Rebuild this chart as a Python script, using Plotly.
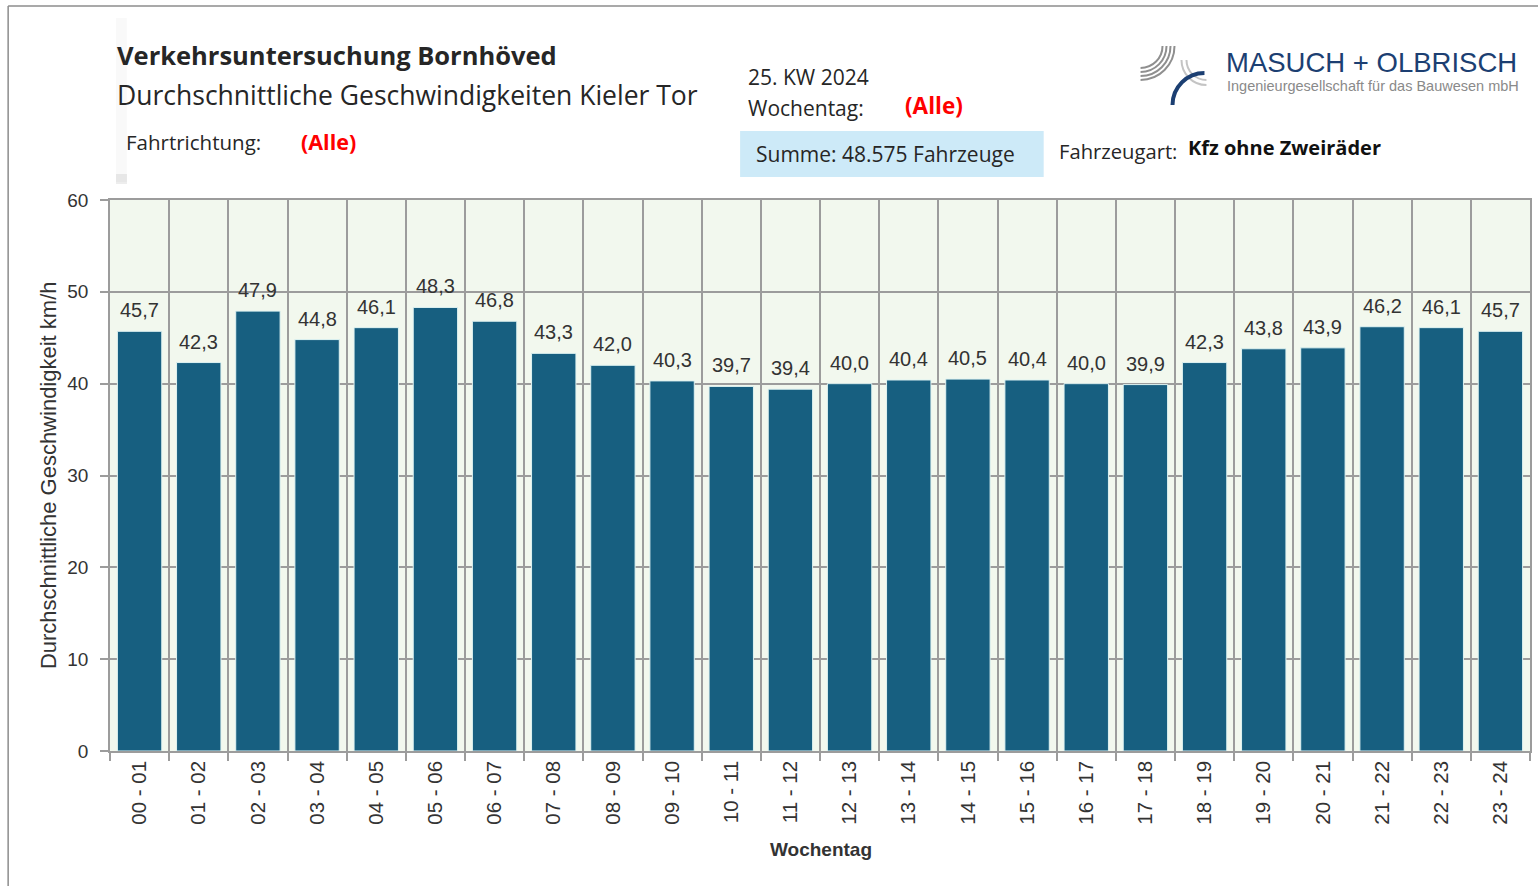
import plotly.graph_objects as go

# ---- data ----
categories = ["00 - 01", "01 - 02", "02 - 03", "03 - 04", "04 - 05", "05 - 06",
              "06 - 07", "07 - 08", "08 - 09", "09 - 10", "10 - 11", "11 - 12",
              "12 - 13", "13 - 14", "14 - 15", "15 - 16", "16 - 17", "17 - 18",
              "18 - 19", "19 - 20", "20 - 21", "21 - 22", "22 - 23", "23 - 24"]
speeds = [45.7, 42.3, 47.9, 44.8, 46.1, 48.3, 46.8, 43.3, 42.0, 40.3, 39.7, 39.4,
          40.0, 40.4, 40.5, 40.4, 40.0, 39.9, 42.3, 43.8, 43.9, 46.2, 46.1, 45.7]
y_ticks = [0, 10, 20, 30, 40, 50, 60]

W, H = 1540, 886
L, R, T, B = 110, 1532, 200, 751   # plot area in pixels


def px(x):
    return (x - L) / (R - L)


def py(y):
    return (B - y) / (B - T)


HEAD_FONT = "Open Sans, Lato, sans-serif"
ARIAL = "Liberation Sans, Arial, sans-serif"
TXT = "#262626"

fig = go.Figure()
fig.add_trace(go.Bar(
    x=categories, y=speeds,
    marker=dict(color="#175f80", line=dict(color="#dff3f2", width=1)),
    hoverinfo="x+y",
))

annotations = []
# value labels above bars (positioned via data coordinates)
for c, v in zip(categories, speeds):
    annotations.append(dict(
        x=c, y=v, xref="x", yref="y", text=f"{v:.1f}".replace(".", ","),
        showarrow=False, xanchor="center", yanchor="bottom", yshift=8,
        font=dict(family=ARIAL, size=20, color="#333333")))


def txt(x, y, s, size, color=TXT, bold=False, family=HEAD_FONT, xanchor="left"):
    annotations.append(dict(
        xref="paper", yref="paper", x=px(x), y=py(y), text=f"<b>{s}</b>" if bold else s,
        showarrow=False, xanchor=xanchor, yanchor="middle",
        font=dict(family=family, size=size, color=color)))


txt(115, 55, "Verkehrsuntersuchung Bornhöved", 25.5, bold=True)
txt(115, 95, "Durchschnittliche Geschwindigkeiten Kieler Tor", 26.5)
txt(124, 142, "Fahrtrichtung:", 20.5)
txt(299, 141, "(Alle)", 21.5, color="#ff0000", bold=True)
txt(747, 77, "25. KW 2024", 21)
txt(747, 108, "Wochentag:", 21)
txt(904, 105, "(Alle)", 22.5, color="#ff0000", bold=True)
txt(755, 154, "Summe: 48.575 Fahrzeuge", 21)
txt(1058, 151, "Fahrzeugart:", 20.2)
txt(1188, 147, "Kfz ohne Zweiräder", 20, color="#111111", bold=True)
txt(1226, 63, "MASUCH + OLBRISCH", 27.5, color="#1c3f72", family=ARIAL)
txt(1227, 86, "Ingenieurgesellschaft für das Bauwesen mbH", 14.5, color="#8a8a8a", family=ARIAL)

# axis titles
annotations.append(dict(
    xref="paper", yref="paper", x=px(48), y=py(475), text="Durchschnittliche Geschwindigkeit km/h",
    showarrow=False, textangle=-90, xanchor="center", yanchor="middle",
    font=dict(family=ARIAL, size=22, color="#333333")))
annotations.append(dict(
    xref="paper", yref="paper", x=px(822), y=py(849), text="<b>Wochentag</b>",
    showarrow=False, xanchor="center", yanchor="middle",
    font=dict(family=ARIAL, size=19, color="#333333")))

shapes = []
# outer frame
shapes.append(dict(type="line", xref="paper", yref="paper", x0=px(8), x1=px(8), y0=py(6), y1=py(886),
                   line=dict(color="#8c8c8c", width=1.5)))
shapes.append(dict(type="line", xref="paper", yref="paper", x0=px(8), x1=px(1540), y0=py(6), y1=py(6),
                   line=dict(color="#8c8c8c", width=1.5)))
# faint shadow strip
shapes.append(dict(type="rect", xref="paper", yref="paper", x0=px(116), x1=px(127), y0=py(18), y1=py(182),
                   fillcolor="rgba(0,0,0,0.025)", line=dict(width=0), layer="below"))
shapes.append(dict(type="rect", xref="paper", yref="paper", x0=px(116), x1=px(127), y0=py(174), y1=py(184),
                   fillcolor="rgba(0,0,0,0.07)", line=dict(width=0), layer="below"))
# light blue box
shapes.append(dict(type="rect", xref="paper", yref="paper", x0=px(741), x1=px(1045), y0=py(131), y1=py(177),
                   fillcolor="#cdeaf8", line=dict(width=0), layer="below"))

# logo: quarter circles as cubic beziers
K = 0.5523


def bez(pts):
    return "M {:.5f},{:.5f} C {:.5f},{:.5f} {:.5f},{:.5f} {:.5f},{:.5f}".format(
        *[v for p in pts for v in (px(p[0]), py(p[1]))])


def arc_left_top(cx, cy, r):
    return bez([(cx, cy + r), (cx + K * r, cy + r), (cx + r, cy + K * r), (cx + r, cy)])


def arc_bottom_right(cx, cy, r):
    return bez([(cx - r, cy), (cx - r, cy - K * r), (cx - K * r, cy - r), (cx, cy - r)])


def arc_top_right(cx, cy, r):
    return bez([(cx - r, cy), (cx - r, cy + K * r), (cx - K * r, cy + r), (cx, cy + r)])


for r in [22, 26, 30, 34]:
    shapes.append(dict(type="path", xref="paper", yref="paper", path=arc_left_top(1142, 46, r),
                       line=dict(color="#8f8f8f", width=2)))
for r in [20, 25]:
    shapes.append(dict(type="path", xref="paper", yref="paper", path=arc_top_right(1208, 60, r),
                       line=dict(color="#c4c4c4", width=2)))
shapes.append(dict(type="path", xref="paper", yref="paper", path=arc_bottom_right(1206, 105, 32),
                   line=dict(color="#1c3f72", width=4)))

fig.update_layout(
    width=W, height=H,
    margin=dict(l=L, r=W - R, t=T, b=H - B, pad=0),
    paper_bgcolor="white", plot_bgcolor="#f2f8ee",
    showlegend=False,
    bargap=0.25,
    annotations=annotations,
    shapes=shapes,
    xaxis=dict(
        type="category", tickson="boundaries", showgrid=True, gridcolor="#9c9c9c", gridwidth=1.5,
        ticks="outside", ticklen=8, tickcolor="#9c9c9c", tickwidth=1.5, tickangle=-90,
        tickfont=dict(family=ARIAL, size=20.5, color="#333333"),
        showline=True, linecolor="#9c9c9c", linewidth=1.5, mirror=True,
    ),
    yaxis=dict(
        range=[0, 60], tickvals=y_ticks, showgrid=True, gridcolor="#9c9c9c", gridwidth=1.5,
        ticks="outside", ticklen=8, tickcolor="#9c9c9c", tickwidth=1.5, ticklabelstandoff=8,
        tickfont=dict(family=ARIAL, size=19, color="#333333"),
        zeroline=False, showline=True, linecolor="#9c9c9c", linewidth=1.5, mirror=True,
    ),
)

fig.write_html("out.html", config={"displayModeBar": False},
               post_script="document.body.style.margin='0';document.body.style.overflow='hidden';")
